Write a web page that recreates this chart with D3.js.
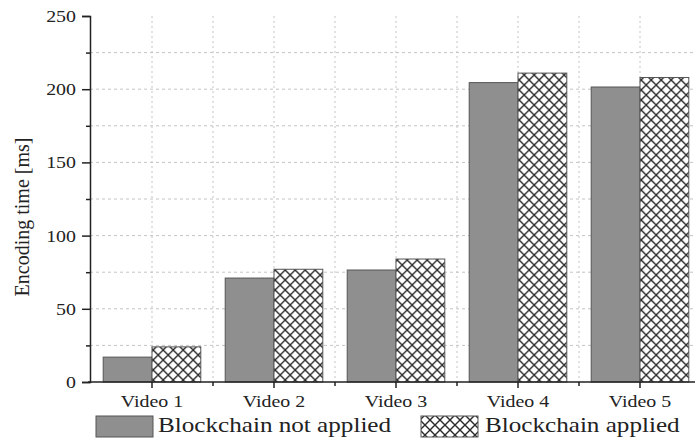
<!DOCTYPE html>
<html>
<head>
<meta charset="utf-8">
<script src="https://cdn.jsdelivr.net/npm/d3@7"></script>
<style>
  body { margin: 0; background: #fff; }
  svg text { font-family: "Liberation Serif", "Times New Roman", serif; }
  .stretch { transform-box: fill-box; transform: scaleX(1.17); }
  .orig-mid { transform-origin: center; }
  .orig-end { transform-origin: right center; }
  .orig-start { transform-origin: left center; }
</style>
</head>
<body>
<svg width="695" height="438"></svg>
<script>
(function (d3) {

  // data
  const videos = ['Video 1', 'Video 2', 'Video 3', 'Video 4', 'Video 5'];
  const notApplied = [17, 71, 76.5, 204.5, 201.5];
  const applied = [24, 77, 84, 211, 208];
  const seriesNames = ['Blockchain not applied', 'Blockchain applied'];
  const yMajor = [0, 50, 100, 150, 200, 250];
  const yMinor = [25, 75, 125, 175, 225];

  const serif = '"Liberation Serif", "Times New Roman", serif';
  const svg = d3.select('svg');
  const width = +svg.attr('width');

  const defs = svg.append('defs');
  const pat = defs.append('pattern')
      .attr('id', 'hatch')
      .attr('patternUnits', 'userSpaceOnUse')
      .attr('width', 10)
      .attr('height', 10);
  pat.append('rect').attr('width', 10).attr('height', 10).attr('fill', '#fff');
  pat.append('path')
      .attr('d', 'M0,0L10,10M10,0L0,10')
      .attr('stroke', '#2a2a2a')
      .attr('stroke-width', 1.4);

  const y = d3.scaleLinear().domain([0, 250]).range([382, 16]);
  const x = d3.scaleBand().domain(videos).range([91, 701])
      .paddingInner(0.2).paddingOuter(0.1);
  const xSub = d3.scaleBand().domain([0, 1]).range([0, x.bandwidth()]);

  const step = x.step();
  const boundaries = videos.map(v => x(v) - (step - x.bandwidth()) / 2);
  const centers = videos.map(v => x(v) + x.bandwidth() / 2);

  // grid
  const grid = svg.append('g').attr('class', 'grid');
  grid.selectAll('.hgrid').data(yMajor.concat(yMinor).filter(d => d > 0 && d < 250))
    .enter().append('line')
      .attr('x1', 90).attr('x2', width)
      .attr('y1', d => y(d)).attr('y2', d => y(d))
      .attr('stroke', '#c4c4c4')
      .attr('stroke-dasharray', '3,3');
  grid.selectAll('.vgrid').data(centers.concat(boundaries.slice(1)))
    .enter().append('line')
      .attr('x1', d => d).attr('x2', d => d)
      .attr('y1', y(250)).attr('y2', y(0))
      .attr('stroke', '#c4c4c4')
      .attr('stroke-dasharray', '2,3');

  // bars
  const rows = videos.map((v, i) => ({ video: v, vals: [notApplied[i], applied[i]] }));
  const groups = svg.selectAll('.grp').data(rows)
    .enter().append('g')
      .attr('transform', d => `translate(${x(d.video)},0)`);
  groups.selectAll('rect').data(d => d.vals.map((v, k) => ({ k, v })))
    .enter().append('rect')
      .attr('x', d => xSub(d.k))
      .attr('width', xSub.bandwidth())
      .attr('y', d => y(d.v))
      .attr('height', d => y(0) - y(d.v))
      .attr('fill', d => d.k === 0 ? '#8f8f8f' : 'url(#hatch)')
      .attr('stroke', '#555')
      .attr('stroke-width', 1);

  // y axis
  const yAxisG = svg.append('g')
      .attr('transform', 'translate(90,0)')
      .call(d3.axisLeft(y).tickValues(yMajor).tickSize(8).tickPadding(6))
      .attr('font-family', serif);
  yAxisG.append('g')
      .call(d3.axisLeft(y).tickValues(yMinor).tickSize(4).tickFormat(''))
      .select('.domain').remove();
  yAxisG.selectAll('text')
      .attr('class', 'stretch orig-end')
      .style('font-size', '17px')
      .style('font-family', serif)
      .attr('fill', '#222');
  yAxisG.selectAll('line, path').attr('stroke', '#222').attr('stroke-width', 1.5);

  // x axis
  const xAxisG = svg.append('g').attr('transform', `translate(0,${y(0)})`);
  xAxisG.append('line')
      .attr('x1', 88).attr('x2', width)
      .attr('stroke', '#222').attr('stroke-width', 1.5);
  xAxisG.selectAll('.maj').data(centers)
    .enter().append('line')
      .attr('x1', d => d).attr('x2', d => d)
      .attr('y1', 0).attr('y2', 6)
      .attr('stroke', '#222').attr('stroke-width', 1.5);
  xAxisG.selectAll('.minr').data(boundaries.slice(1))
    .enter().append('line')
      .attr('x1', d => d).attr('x2', d => d)
      .attr('y1', 0).attr('y2', 4)
      .attr('stroke', '#222').attr('stroke-width', 1.5);
  xAxisG.selectAll('.lbl').data(videos)
    .enter().append('text')
      .attr('class', 'stretch orig-mid')
      .attr('x', d => x(d) + x.bandwidth() / 2)
      .attr('y', 25)
      .attr('text-anchor', 'middle')
      .style('font-size', '17px')
      .style('font-family', serif)
      .attr('fill', '#222')
      .text(d => d);

  // y title
  svg.append('text')
      .attr('transform', 'translate(29,217) rotate(-90)')
      .attr('text-anchor', 'middle')
      .style('font-size', '20px')
      .style('font-family', serif)
      .attr('fill', '#222')
      .text('Encoding time [ms]');

  // legend
  const legend = svg.append('g');
  const legX = [96, 421];
  const legTextX = [158, 485];
  seriesNames.forEach((name, k) => {
    legend.append('rect')
        .attr('x', legX[k]).attr('y', 416)
        .attr('width', 57).attr('height', 21)
        .attr('fill', k === 0 ? '#8f8f8f' : 'url(#hatch)')
        .attr('stroke', '#555');
    legend.append('text')
        .attr('class', 'stretch orig-start')
        .attr('x', legTextX[k]).attr('y', 432)
        .style('font-size', '21.5px')
        .style('font-family', serif)
        .attr('fill', '#222')
        .text(name);
  });

}(d3));
</script>
</body>
</html>
